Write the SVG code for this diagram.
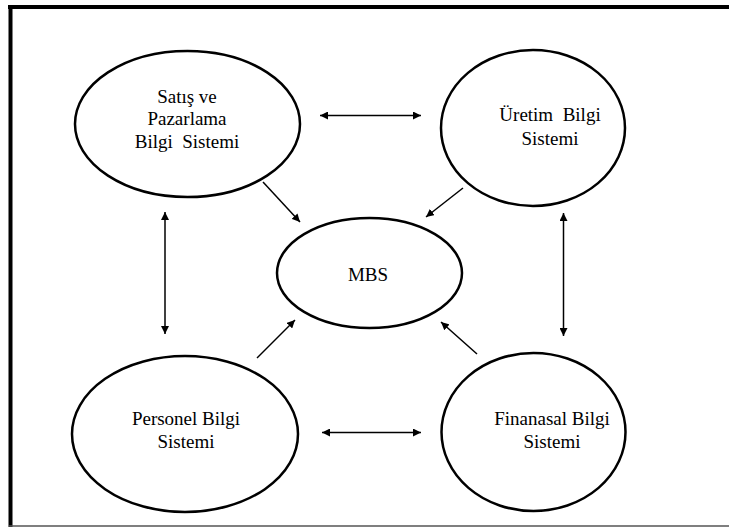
<svg xmlns="http://www.w3.org/2000/svg" width="729" height="527" viewBox="0 0 729 527">
  <defs>
    <marker id="head" viewBox="0 0 10 10" refX="10" refY="5" markerWidth="8" markerHeight="8" markerUnits="userSpaceOnUse" orient="auto-start-reverse">
      <path d="M0,0 L10,5 L0,10 Z" fill="#000"/>
    </marker>
    <style>
      .node ellipse { fill: #fff; stroke: #000; stroke-width: 2.5; }
      .node text { font-family: "Liberation Serif", "Times New Roman", serif; font-size: 19px; fill: #000; text-anchor: middle; }
      .link { stroke: #000; stroke-width: 1.5; fill: none; }
      .one { marker-end: url(#head); }
      .two { marker-start: url(#head); marker-end: url(#head); }
    </style>
  </defs>

  <rect width="729" height="527" fill="#fff"/>

  <!-- page frame: heavy top and left rule, thin bottom rule -->
  <g id="frame">
    <line x1="8" y1="7" x2="729" y2="7" stroke="#000" stroke-width="4"/>
    <line x1="10.5" y1="5" x2="10.5" y2="527" stroke="#000" stroke-width="4"/>
    <line x1="9" y1="526" x2="729" y2="526" stroke="#555" stroke-width="1.5"/>
  </g>

  <g id="connectors">
    <!-- two-way links between the subsystems -->
    <line class="link two" x1="320" y1="115.5" x2="421" y2="115.5"/>
    <line class="link two" x1="322" y1="432.5" x2="421" y2="432.5"/>
    <line class="link two" x1="165" y1="212" x2="165" y2="334"/>
    <line class="link two" x1="563.5" y1="213" x2="563.5" y2="336"/>
    <!-- each subsystem feeds MBS -->
    <line class="link one" x1="263" y1="182" x2="300" y2="222"/>
    <line class="link one" x1="463" y1="188" x2="426" y2="217"/>
    <line class="link one" x1="257" y1="358" x2="295" y2="320"/>
    <line class="link one" x1="477" y1="354" x2="441" y2="322"/>
  </g>

  <g id="satis" class="node">
    <ellipse cx="187.5" cy="124" rx="112.5" ry="73"/>
    <text x="187" y="103">Satış ve</text>
    <text x="187" y="125">Pazarlama</text>
    <text x="187" y="148" xml:space="preserve">Bilgi  Sistemi</text>
  </g>

  <g id="uretim" class="node">
    <ellipse cx="533" cy="128" rx="92" ry="78"/>
    <text x="550" y="121" xml:space="preserve">Üretim  Bilgi</text>
    <text x="550" y="145">Sistemi</text>
  </g>

  <g id="mbs" class="node">
    <ellipse cx="369.5" cy="273" rx="92.5" ry="55"/>
    <text x="368" y="281">MBS</text>
  </g>

  <g id="personel" class="node">
    <ellipse cx="185" cy="434" rx="113" ry="78"/>
    <text x="186" y="425">Personel Bilgi</text>
    <text x="186" y="448">Sistemi</text>
  </g>

  <g id="finansal" class="node">
    <ellipse cx="533.5" cy="432" rx="92" ry="79"/>
    <text x="552" y="425">Finanasal Bilgi</text>
    <text x="552" y="448">Sistemi</text>
  </g>
</svg>
